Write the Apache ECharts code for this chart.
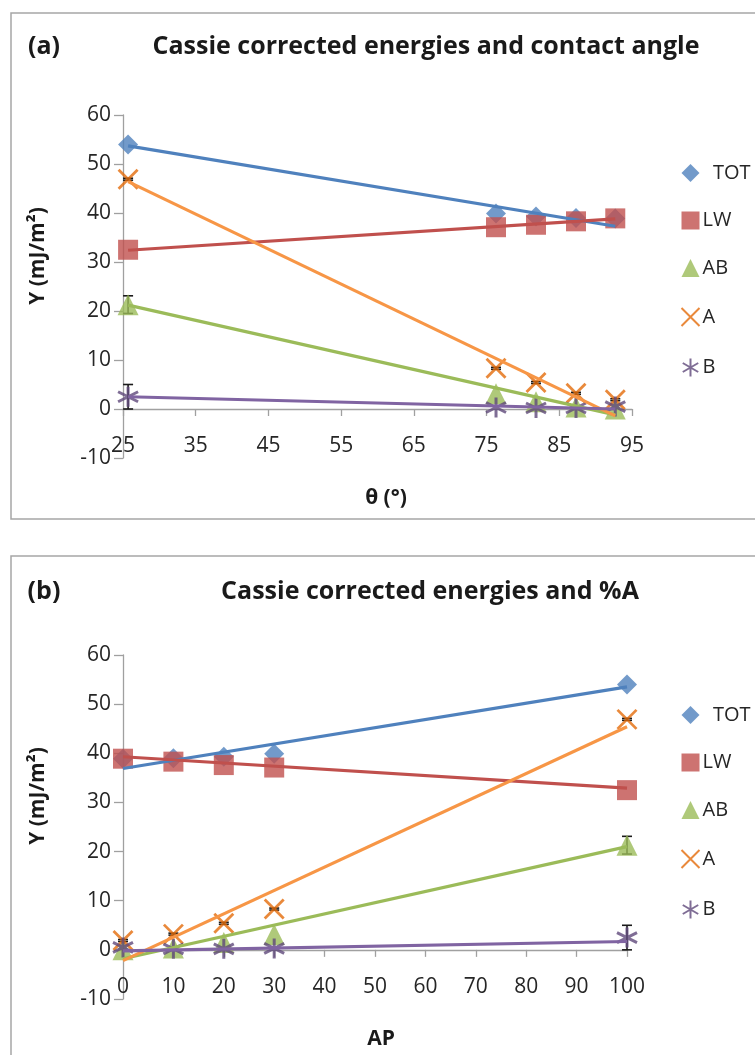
<!DOCTYPE html>
<html><head><meta charset="utf-8">
<script src="https://cdn.jsdelivr.net/npm/echarts@6/dist/echarts.min.js"></script>
<style>html,body{margin:0;padding:0;background:#fff}#c{width:755px;height:1055px}</style>
</head><body><div id="c"></div>
<script>
// ---- data ----
const seriesNames = ['TOT', 'LW', 'AB', 'A', 'B'];
const thetaX = [25.7, 76.3, 81.8, 87.3, 92.7];      // panel (a) contact angle
const apX = [100, 30, 20, 10, 0];                     // panel (b) %A
const TOT = [54.0, 39.9, 39.3, 39.0, 38.9];
const LW = [32.5, 37.1, 37.6, 38.3, 38.9];
const AB = [21.3, 3.1, 1.5, 0.4, 0.0];
const A = [46.9, 8.3, 5.4, 3.2, 1.9];
const B = [2.5, 0.3, 0.2, 0.2, 0.5];
// error bar half widths
const errAB = [1.8, 0, 0, 0, 0];
const errA = [0.2, 0.2, 0.2, 0.2, 0.2];
const errB = [2.5, 0, 0, 0, 0];
// trendline endpoints [start, end]
const trendAx = [25.7, 92.7];
const trendA_TOT = [53.7, 37.3];
const trendA_LW = [32.4, 38.8];
const trendA_AB = [21.2, -1.2];
const trendA_A = [46.4, -1.4];
const trendA_B = [2.5, 0.0];
const trendBx = [0, 100];
const trendB_TOT = [36.9, 53.5];
const trendB_LW = [39.3, 32.9];
const trendB_AB = [-1.8, 21.0];
const trendB_A = [-2.2, 45.4];
const trendB_B = [-0.2, 1.7];
const xTicksA = {min: 25, max: 95, interval: 10};
const xTicksB = {min: 0, max: 100, interval: 10};
const yTicks = {min: -10, max: 60, interval: 10};

const values = {TOT, LW, AB, A, B};
const FONT = 'Open Sans';
const styles = {
  TOT: {symbol: 'diamond', size: 20, item: {color: '#4F81BD'}, line: '#4F81BD'},
  LW: {symbol: 'rect', size: 20, item: {color: '#C0504D'}, line: '#C0504D'},
  AB: {symbol: 'triangle', size: 21, item: {color: '#9BBB59'}, line: '#9BBB59'},
  A: {symbol: 'path://M0,0L10,10M10,0L0,10', size: 19, item: {color: 'none', borderColor: '#E46C0A', borderWidth: 2.8}, line: '#F79646'},
  B: {symbol: 'path://M5,0L5,10M0.7,2.5L9.3,7.5M0.7,7.5L9.3,2.5', size: 20, item: {color: 'none', borderColor: '#5F497A', borderWidth: 3}, line: '#8064A2'}
};

const grids = [
  {left: 123, top: 115, width: 509, height: 343},
  {left: 123, top: 655, width: 504, height: 344}
];
const axisLineStyle = {color: '#A0A0A0', width: 1.3};
function xAxisDef(gi, t) {
  return {type: 'value', gridIndex: gi, min: t.min, max: t.max, interval: t.interval,
    splitLine: {show: false},
    axisLine: {onZero: true, lineStyle: axisLineStyle},
    axisTick: {length: 7, lineStyle: axisLineStyle},
    axisLabel: {margin: -22, fontFamily: FONT, fontSize: 21, color: '#262626'}};
}
function yAxisDef(gi) {
  return {type: 'value', gridIndex: gi, min: yTicks.min, max: yTicks.max, interval: yTicks.interval,
    splitLine: {show: false},
    axisLine: {show: true, lineStyle: axisLineStyle},
    axisTick: {show: true, length: 9, lineStyle: axisLineStyle},
    axisLabel: {margin: 12, fontFamily: FONT, fontSize: 21, color: '#262626'}};
}

const series = [];
[thetaX, apX].forEach((xs, gi) => {
  seriesNames.forEach(n => {
    const s = styles[n];
    series.push({name: n, type: 'scatter', xAxisIndex: gi, yAxisIndex: gi, clip: false,
      symbol: s.symbol, symbolSize: s.size, itemStyle: s.item, z: 3,
      data: xs.map((x, i) => [x, values[n][i]])});
  });
  // error bars
  const eb = [];
  const errs = {AB: errAB, A: errA, B: errB};
  Object.keys(errs).forEach(n => {
    xs.forEach((x, i) => { if (errs[n][i] > 0) eb.push([x, values[n][i] - errs[n][i], values[n][i] + errs[n][i]]); });
  });
  series.push({type: 'custom', name: 'err' + gi, xAxisIndex: gi, yAxisIndex: gi, z: 2, clip: false,
    data: eb,
    renderItem: function (params, api) {
      const lo = api.coord([api.value(0), api.value(1)]);
      const hi = api.coord([api.value(0), api.value(2)]);
      const w = 5;
      const st = {stroke: '#1a1a1a', lineWidth: 1.6};
      return {type: 'group', children: [
        {type: 'line', shape: {x1: lo[0], y1: lo[1], x2: hi[0], y2: hi[1]}, style: st},
        {type: 'line', shape: {x1: lo[0] - w, y1: lo[1], x2: lo[0] + w, y2: lo[1]}, style: st},
        {type: 'line', shape: {x1: hi[0] - w, y1: hi[1], x2: hi[0] + w, y2: hi[1]}, style: st}
      ]};
    }});
});
const trendsA = {TOT: trendA_TOT, LW: trendA_LW, AB: trendA_AB, A: trendA_A, B: trendA_B};
const trendsB = {TOT: trendB_TOT, LW: trendB_LW, AB: trendB_AB, A: trendB_A, B: trendB_B};
[[trendAx, trendsA], [trendBx, trendsB]].forEach(([tx, tr], gi) => {
  seriesNames.forEach(n => {
    series.push({name: n + ' trend', type: 'line', xAxisIndex: gi, yAxisIndex: gi, symbol: 'none',
      silent: true, z: 4, lineStyle: {color: styles[n].line, width: 3.2},
      data: tx.map((x, i) => [x, tr[n][i]])});
  });
});

function legendDef(top) {
  return {orient: 'vertical', left: 674, top: top, itemGap: 27.5, itemWidth: 18, itemHeight: 18,
    data: seriesNames, selectedMode: false,
    formatter: n => n === 'TOT' ? '  TOT' : n,
    textStyle: {fontFamily: FONT, fontSize: 20, color: '#262626', lineHeight: 20, padding: [0, 0, 0, -2]}};
}

const txt = (x, y, text, size, extra) => Object.assign({type: 'text', x: x, y: y,
  style: Object.assign({text: text, font: 'bold ' + size + 'px "' + FONT + '"', fill: '#1a1a1a',
    textAlign: 'center', textVerticalAlign: 'middle'}, extra || {})});

const option = {
  animation: false,
  backgroundColor: '#fff',
  grid: grids,
  xAxis: [xAxisDef(0, xTicksA), xAxisDef(1, xTicksB)],
  yAxis: [yAxisDef(0), yAxisDef(1)],
  legend: [legendDef(158), legendDef(700)],
  series: series,
  graphic: [
    {type: 'rect', shape: {x: 11, y: 13, width: 760, height: 506}, style: {fill: 'none', stroke: '#A6A6A6', lineWidth: 1.5}, z: -1},
    {type: 'rect', shape: {x: 11, y: 556, width: 760, height: 520}, style: {fill: 'none', stroke: '#A6A6A6', lineWidth: 1.5}, z: -1},
    txt(44, 47, '(a)', 25),
    txt(426, 47, 'Cassie corrected energies and contact angle', 25),
    txt(44, 592, '(b)', 25),
    txt(430, 592, 'Cassie corrected energies and %A', 25),
    txt(386, 498, 'θ (°)', 21),
    txt(381, 1039, 'AP', 21),
    Object.assign(txt(0, 0, 'Υ (mJ/m²)', 21), {x: 38, y: 256, rotation: Math.PI / 2}),
    Object.assign(txt(0, 0, 'Υ (mJ/m²)', 21), {x: 38, y: 796, rotation: Math.PI / 2})
  ]
};
const chart = echarts.init(document.getElementById('c'), null, {renderer: 'canvas'});
chart.setOption(option);
</script></body></html>
